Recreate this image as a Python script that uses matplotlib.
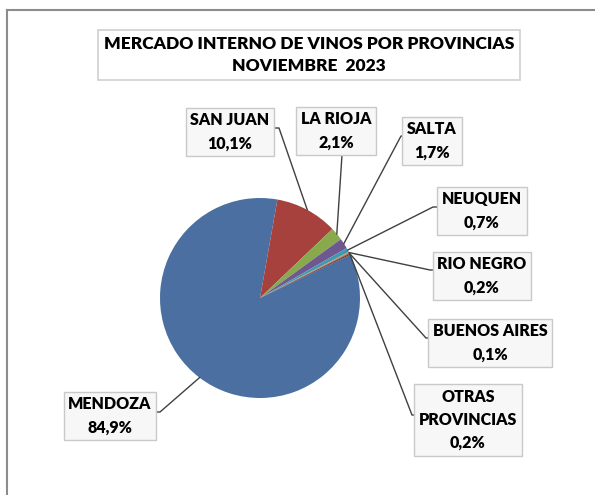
import matplotlib
matplotlib.use("Agg")
import matplotlib.pyplot as plt
import numpy as np

# data
provincias = ["MENDOZA", "SAN JUAN", "LA RIOJA", "SALTA", "NEUQUEN",
              "RIO NEGRO", "BUENOS AIRES", "OTRAS\nPROVINCIAS"]
porcentajes = [84.9, 10.1, 2.1, 1.7, 0.7, 0.2, 0.1, 0.2]
colores = ["#4a6fa0", "#a6413e", "#89aa4c", "#6f5890", "#3f99b2",
           "#e58c48", "#2c4d75", "#772c2a"]

W, H = 595, 495
plt.rcParams['font.family'] = ['Lato', 'DejaVu Sans']

fig = plt.figure(figsize=(W / 100, H / 100), dpi=100)
ax = fig.add_axes([0, 0, 1, 1])

# pie in pixel space (y measured upward)
cx, cy, r = 260, H - 298, 100
start = 25.6
wedges, _ = ax.pie(porcentajes, colors=colores, startangle=start, counterclock=False,
                   center=(cx, cy), radius=r, wedgeprops=dict(linewidth=0))
ax.set_xlim(0, W)
ax.set_ylim(0, H)
ax.set_aspect('equal')
ax.axis('off')

# label boxes (center x, center y in pixels from top) and elbow points
cajas = [(110, 416), (230, 132), (336, 131), (432, 141), (482, 211),
         (482, 276), (490, 343), (468, 420)]
anclas = [(153, 412, 160), (272, 128, 279), (342, 155, 342), (407, 136, 401),
          (440, 207, 433), (436, 270, 430), (432, 338, 426), (418, 415, 412)]

caja = dict(boxstyle="square,pad=0.3", fc="#f7f7f7", ec="#c9c9c9", lw=1)
ang = start
for i, (nombre, v) in enumerate(zip(provincias, porcentajes)):
    mid = np.deg2rad(ang - v * 3.6 / 2)
    ang -= v * 3.6
    px, py = cx + r * np.cos(mid), cy + r * np.sin(mid)
    bx, by, ex = anclas[i]
    ax.plot([px, ex, bx], [py, H - by, H - by], color="#404040", lw=1, zorder=1)
    txt = nombre + "\n" + f"{v:.1f}%".replace(".", ",")
    tx, ty = cajas[i]
    ax.text(tx, H - ty, txt, ha="center", va="center", fontsize=11.5,
            fontweight="heavy", linespacing=1.55, bbox=caja, zorder=3)

# title box
ax.text(309, H - 55, "MERCADO INTERNO DE VINOS POR PROVINCIAS\nNOVIEMBRE  2023",
        ha="center", va="center", fontsize=12.5, fontweight="heavy", linespacing=1.45,
        bbox=dict(boxstyle="square,pad=0.35", fc="white", ec="#cfcfcf", lw=1.2))

# outer chart border (top and left)
ax.plot([7, W], [H - 10, H - 10], color="#8c8c8c", lw=1.5)
ax.plot([7, 7], [H - 10, 0], color="#8c8c8c", lw=1.5)

fig.savefig("out.png", dpi=100)
